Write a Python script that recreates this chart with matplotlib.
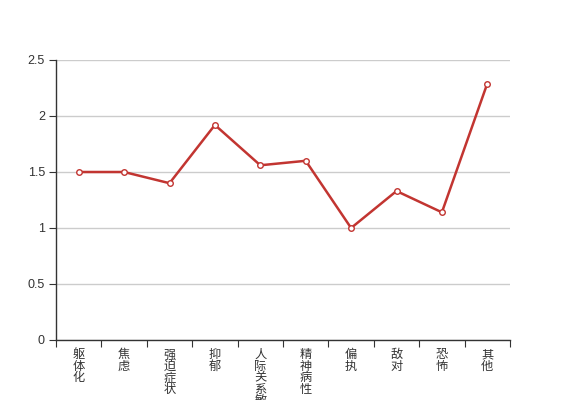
import matplotlib
matplotlib.use("Agg")
import matplotlib.pyplot as plt
import numpy as np

plt.rcParams['font.family'] = ['Noto Sans CJK SC', 'DejaVu Sans']

categories = ["躯体化", "焦虑", "强迫症状", "抑郁", "人际关系敏感",
              "精神病性", "偏执", "敌对", "恐怖", "其他"]
values = [1.5, 1.5, 1.4, 1.92, 1.56, 1.6, 1.0, 1.33, 1.14, 2.29]

fig = plt.figure(figsize=(5.67, 4), dpi=100)
ax = fig.add_axes([56 / 567, 60 / 400, 454 / 567, 280 / 400])

x = np.arange(len(categories))
ax.plot(x, values, color="#c23531", linewidth=1.8, marker="o", markersize=4,
        markerfacecolor="white", markeredgecolor="#c23531", markeredgewidth=1,
        zorder=3)

ax.set_xlim(-0.5, len(categories) - 0.5)
ax.set_ylim(0, 2.5)
ax.set_yticks([0, 0.5, 1, 1.5, 2, 2.5])
ax.set_yticklabels(["0", "0.5", "1", "1.5", "2", "2.5"],
                   family=["Liberation Sans", "DejaVu Sans"])
ax.grid(axis="y", color="#cccccc", linewidth=1)
ax.set_axisbelow(True)

# category boundaries as ticks, labels centred below
ax.set_xticks(np.arange(len(categories) + 1) - 0.5)
ax.set_xticklabels([])
ax.set_xticks(x, minor=True)
ax.set_xticklabels(["\n".join(c) for c in categories], minor=True,
                   fontsize=8.8, color="#333333", linespacing=0.85, va="top")
ax.tick_params(axis="x", which="minor", length=0, pad=6)
ax.tick_params(axis="x", which="major", length=5, color="#333333")
ax.tick_params(axis="y", length=5, color="#333333", labelsize=9,
               labelcolor="#333333", pad=3)

for side in ["top", "right"]:
    ax.spines[side].set_visible(False)
for side in ["left", "bottom"]:
    ax.spines[side].set_color("#333333")
    ax.spines[side].set_linewidth(1)

fig.savefig("out.png", dpi=100)
